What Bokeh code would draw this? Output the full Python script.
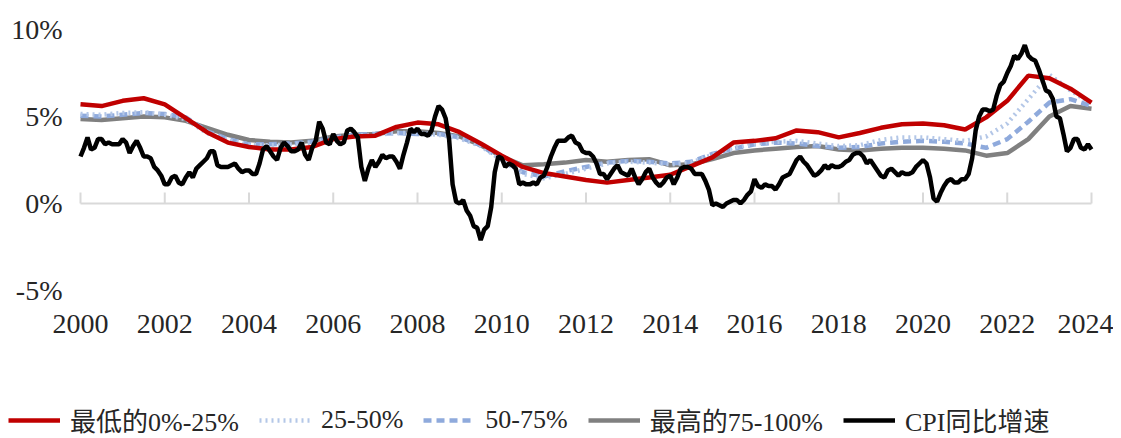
from bokeh.plotting import figure
from bokeh.models import Range1d, FixedTicker, Legend, LegendItem, ColumnDataSource
from bokeh.embed import file_html
from bokeh.resources import INLINE

# ---------------- data ----------------
years_ticks = [2000, 2002, 2004, 2006, 2008, 2010, 2012, 2014, 2016, 2018, 2020, 2022, 2024]
y_ticks = [-5, 0, 5, 10]
y_tick_labels = {-5: "-5%", 0: "0%", 5: "5%", 10: "10%"}

wage_dates = [2000.0, 2000.5, 2001.0, 2001.5, 2002.0, 2002.5, 2003.0, 2003.5, 2004.0, 2004.5,
              2005.0, 2005.5, 2006.0, 2006.5, 2007.0, 2007.5, 2008.0, 2008.5, 2009.0, 2009.5,
              2010.0, 2010.5, 2011.0, 2011.5, 2012.0, 2012.5, 2013.0, 2013.5, 2014.0, 2014.5,
              2015.0, 2015.5, 2016.0, 2016.5, 2017.0, 2017.5, 2018.0, 2018.5, 2019.0, 2019.5,
              2020.0, 2020.5, 2021.0, 2021.5, 2022.0, 2022.5, 2023.0, 2023.5, 2024.0]

q1_lowest = [5.7, 5.6, 5.9, 6.05, 5.7, 4.9, 4.1, 3.5, 3.25, 3.1,
             3.1, 3.25, 3.7, 3.85, 3.9, 4.4, 4.65, 4.55, 4.1, 3.45,
             2.75, 2.1, 1.75, 1.55, 1.35, 1.2, 1.35, 1.5, 1.65, 2.15,
             2.65, 3.5, 3.6, 3.75, 4.2, 4.1, 3.8, 4.05, 4.35, 4.55,
             4.6, 4.5, 4.25, 4.95, 5.9, 7.35, 7.2, 6.6, 5.8]

q2 = [5.15, 5.1, 5.2, 5.25, 5.1, 4.85, 4.05, 3.65, 3.35, 3.35,
      3.4, 3.5, 3.75, 3.9, 3.95, 4.05, 4.05, 3.95, 3.75, 3.3,
      2.5, 1.7, 1.45, 1.7, 2.0, 2.3, 2.4, 2.35, 2.25, 2.35,
      2.8, 3.2, 3.45, 3.55, 3.6, 3.45, 3.3, 3.35, 3.65, 3.8,
      3.8, 3.7, 3.6, 3.85, 4.6, 6.0, 7.4, 6.5, 5.75]

q3 = [5.05, 5.0, 5.1, 5.2, 5.15, 4.95, 4.15, 3.7, 3.4, 3.4,
      3.45, 3.55, 3.8, 3.95, 4.0, 4.05, 4.0, 4.0, 3.8, 3.35,
      2.55, 1.8, 1.55, 1.85, 2.1, 2.35, 2.45, 2.4, 2.3, 2.4,
      2.85, 3.15, 3.4, 3.5, 3.45, 3.3, 3.2, 3.25, 3.45, 3.55,
      3.6, 3.55, 3.45, 3.2, 3.7, 4.7, 5.8, 6.0, 5.6]

q4_highest = [4.85, 4.8, 4.9, 5.0, 4.95, 4.75, 4.35, 3.95, 3.65, 3.55,
              3.5, 3.6, 3.85, 3.95, 4.0, 4.15, 4.15, 4.05, 3.85, 3.35,
              2.7, 2.2, 2.25, 2.35, 2.5, 2.4, 2.5, 2.55, 2.2, 2.25,
              2.55, 2.9, 3.05, 3.15, 3.25, 3.3, 3.1, 3.05, 3.15, 3.2,
              3.2, 3.15, 3.05, 2.75, 2.9, 3.7, 5.0, 5.6, 5.45]

cpi_start_year = 2000
cpi_yoy = [
    2.7, 3.2, 3.8, 3.1, 3.2, 3.7, 3.7, 3.4, 3.5, 3.4, 3.4, 3.4,   # 2000
    3.7, 3.5, 2.9, 3.3, 3.6, 3.2, 2.7, 2.7, 2.6, 2.1, 1.9, 1.6,   # 2001
    1.1, 1.1, 1.5, 1.6, 1.2, 1.1, 1.5, 1.8, 1.5, 2.0, 2.2, 2.4,   # 2002
    2.6, 3.0, 3.0, 2.2, 2.1, 2.1, 2.1, 2.2, 2.3, 2.0, 1.8, 1.9,   # 2003
    1.9, 1.7, 1.7, 2.3, 3.1, 3.3, 3.0, 2.7, 2.5, 3.2, 3.5, 3.3,   # 2004
    3.0, 3.0, 3.1, 3.5, 2.8, 2.5, 3.2, 3.6, 4.7, 4.3, 3.5, 3.4,   # 2005
    4.0, 3.6, 3.4, 3.5, 4.2, 4.3, 4.1, 3.8, 2.1, 1.3, 2.0, 2.5,   # 2006
    2.1, 2.4, 2.8, 2.6, 2.7, 2.7, 2.4, 2.0, 2.8, 3.5, 4.3, 4.1,   # 2007
    4.3, 4.0, 4.0, 3.9, 4.2, 5.0, 5.6, 5.4, 4.9, 3.7, 1.1, 0.1,   # 2008
    0.0, 0.2, -0.4, -0.7, -1.3, -1.4, -2.1, -1.5, -1.3, -0.2, 1.8, 2.7,  # 2009
    2.6, 2.1, 2.3, 2.2, 2.0, 1.1, 1.2, 1.1, 1.1, 1.2, 1.1, 1.5,   # 2010
    1.6, 2.1, 2.7, 3.2, 3.6, 3.6, 3.6, 3.8, 3.9, 3.5, 3.4, 3.0,   # 2011
    2.9, 2.9, 2.7, 2.3, 1.7, 1.7, 1.4, 1.7, 2.0, 2.2, 1.8, 1.7,   # 2012
    1.6, 2.0, 1.5, 1.1, 1.4, 1.8, 2.0, 1.5, 1.2, 1.0, 1.2, 1.5,   # 2013
    1.6, 1.1, 1.5, 2.0, 2.1, 2.1, 2.0, 1.7, 1.7, 1.7, 1.3, 0.8,   # 2014
    -0.1, 0.0, -0.1, -0.2, 0.0, 0.1, 0.2, 0.2, 0.0, 0.2, 0.5, 0.7,  # 2015
    1.4, 1.0, 0.9, 1.1, 1.0, 1.0, 0.8, 1.1, 1.5, 1.6, 1.7, 2.1,   # 2016
    2.5, 2.7, 2.4, 2.2, 1.9, 1.6, 1.7, 1.9, 2.2, 2.0, 2.2, 2.1,   # 2017
    2.1, 2.2, 2.4, 2.5, 2.8, 2.9, 2.9, 2.7, 2.3, 2.5, 2.2, 1.9,   # 2018
    1.6, 1.5, 1.9, 2.0, 1.8, 1.6, 1.8, 1.7, 1.7, 1.8, 2.1, 2.3,   # 2019
    2.5, 2.3, 1.5, 0.3, 0.1, 0.6, 1.0, 1.3, 1.4, 1.2, 1.2, 1.4,   # 2020
    1.4, 1.7, 2.6, 4.2, 5.0, 5.4, 5.4, 5.3, 5.4, 6.2, 6.8, 7.0,   # 2021
    7.5, 7.9, 8.5, 8.3, 8.6, 9.1, 8.5, 8.3, 8.2, 7.7, 7.1, 6.5,   # 2022
    6.4, 6.0, 5.0, 4.9, 4.0, 3.0, 3.2, 3.7, 3.7, 3.2, 3.1, 3.4,   # 2023
    3.1,                                                         # 2024
]

series_names = ["最低的0%-25%", "25-50%", "50-75%", "最高的75-100%", "CPI同比增速"]

# ---------------- layout (pixels) ----------------
W, H = 1113, 438
X_LEFT_PX, X_RIGHT_PX = 80, 1091      # where 2000 and 2024 sit
Y_TOP_PX, Y_BOT_PX = 29, 290          # where 10% and -5% sit
TICK_PX = 11

x_min, x_max = years_ticks[0], years_ticks[-1]
y_min, y_max = y_ticks[0], y_ticks[-1]
px_per_x = (X_RIGHT_PX - X_LEFT_PX) / (x_max - x_min)
px_per_y = (Y_BOT_PX - Y_TOP_PX) / (y_max - y_min)
x_range = Range1d(x_min - X_LEFT_PX / px_per_x, x_max + (W - X_RIGHT_PX) / px_per_x)
y_range = Range1d(y_min - (H - Y_BOT_PX) / px_per_y, y_max + Y_TOP_PX / px_per_y)

LATIN = "'Liberation Serif', 'Noto Sans CJK SC'"
TXT = "#262626"
AXIS_GREY = "#D9D9D9"

p = figure(width=W, height=H, output_backend="svg", toolbar_location=None,
           x_range=x_range, y_range=y_range,
           min_border_left=0, min_border_right=0, min_border_top=0, min_border_bottom=0)
p.outline_line_color = None
p.xgrid.grid_line_color = None
p.ygrid.grid_line_color = None
p.background_fill_color = "white"
p.border_fill_color = "white"

# bottom axis: labels only, sitting at -5%
p.xaxis.fixed_location = y_min
p.xaxis.ticker = FixedTicker(ticks=years_ticks)
p.xaxis.axis_line_color = None
p.xaxis.major_tick_line_color = None
p.xaxis.minor_tick_line_color = None
p.xaxis.major_tick_in = 0
p.xaxis.major_tick_out = 0
p.xaxis.major_label_standoff = 24
p.xaxis.major_label_text_font = "Liberation Serif"
p.xaxis.major_label_text_font_size = "28px"
p.xaxis.major_label_text_color = TXT

# left axis: labels only, at 2000
p.yaxis.fixed_location = x_min
p.yaxis.ticker = FixedTicker(ticks=y_ticks)
p.yaxis.major_label_overrides = y_tick_labels
p.yaxis.axis_line_color = None
p.yaxis.major_tick_line_color = None
p.yaxis.minor_tick_line_color = None
p.yaxis.major_tick_in = 0
p.yaxis.major_tick_out = 0
p.yaxis.major_label_standoff = 18
p.yaxis.major_label_text_font = "Liberation Serif"
p.yaxis.major_label_text_font_size = "28px"
p.yaxis.major_label_text_color = TXT

# zero line with short upward ticks at each labelled year
p.segment(x0=[x_min], y0=[0], x1=[x_max], y1=[0], line_color=AXIS_GREY, line_width=2)
tick_src = ColumnDataSource(dict(x=years_ticks, y0=[0] * len(years_ticks),
                                 y1=[TICK_PX / px_per_y] * len(years_ticks)))
p.segment(x0="x", y0="y0", x1="x", y1="y1", source=tick_src, line_color=AXIS_GREY, line_width=2)

cpi_dates = [cpi_start_year + i / 12 for i in range(len(cpi_yoy))]

r_q4 = p.line(wage_dates, q4_highest, line_color="#808080", line_width=4.5)
r_q3 = p.line(wage_dates, q3, line_color="#8FAADC", line_width=4.5, line_dash="8 5")
r_q2 = p.line(wage_dates, q2, line_color="#B4C7E7", line_width=4.5, line_dash="2 4")
r_q1 = p.line(wage_dates, q1_lowest, line_color="#C00000", line_width=4.5)
r_cpi = p.line(cpi_dates, cpi_yoy, line_color="#000000", line_width=4.5)

legend = Legend(items=[
    LegendItem(label=series_names[0], renderers=[r_q1]),
    LegendItem(label=series_names[1], renderers=[r_q2]),
    LegendItem(label=series_names[2], renderers=[r_q3]),
    LegendItem(label=series_names[3], renderers=[r_q4]),
    LegendItem(label=series_names[4], renderers=[r_cpi]),
], orientation="horizontal", location=(8, 0))
legend.label_text_font = LATIN
legend.label_text_font_size = "26px"
legend.label_text_color = TXT
legend.glyph_width = 52
legend.glyph_height = 20
legend.label_standoff = 10
legend.spacing = 20
legend.padding = 0
legend.margin = 0
legend.border_line_color = None
legend.background_fill_alpha = 0
p.add_layout(legend)

open("out.html", "w").write(file_html(p, INLINE))
